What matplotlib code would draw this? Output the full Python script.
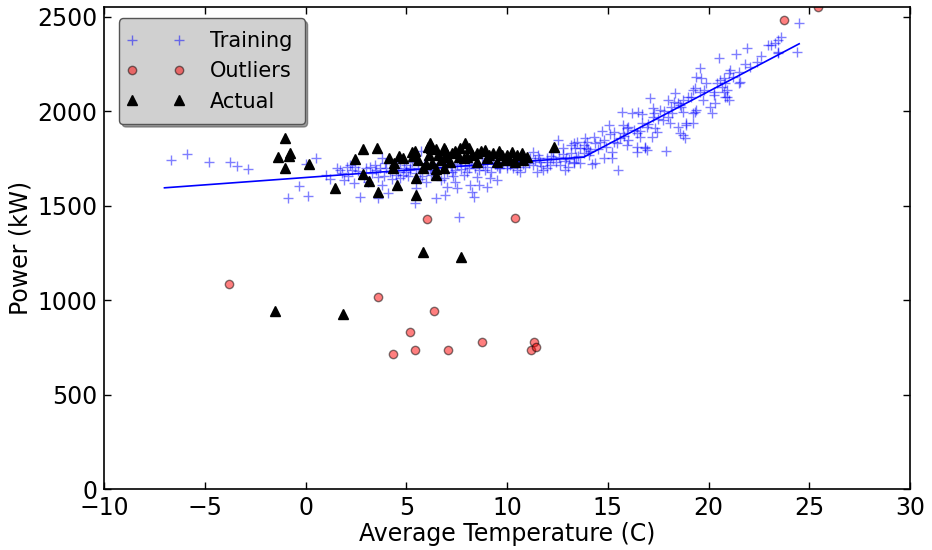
import matplotlib
matplotlib.use("Agg")
import matplotlib.pyplot as plt
from matplotlib.lines import Line2D
from matplotlib.legend_handler import HandlerLine2D

# training data (temperature C, power kW)
train_temp = [-6.7, -5.9, -4.8, -3.75, -3.4, -2.85, -0.3, -0.85, 0.1, 0.0, 0.5, 1.0, 1.55, 1.7, 1.9,
              2.05, 2.2, 2.4, 2.45, 2.7, 3.0, 3.3, 3.45, 3.6, 3.6, 3.8, 3.8, 3.95, 4.1, 4.2,
              4.5, 4.7, 4.7, 4.85, 5.0, 5.0, 5.2, 5.45, 5.5, 5.75, 6.0, 6.0, 6.25, 6.5, 6.7,
              6.85, 6.9, 7.0, 7.15, 7.25, 7.4, 7.5, 7.6, 7.65, 7.85, 8.15, 8.25, 8.35, 8.5, 8.6,
              8.75, 9.0, 9.15, 9.3, 9.5, 9.65, 10.0, 10.15, 10.5, 10.65, 10.8, 11.15, 11.3, 11.3, 11.5,
              11.55, 11.65, 11.8, 12.0, 12.0, 12.15, 12.3, 12.45, 12.55, 12.65, 12.8, 12.9, 12.95, 13.05, 13.2,
              13.2, 13.3, 13.3, 13.3, 13.35, 13.45, 13.6, 13.6, 13.8, 13.85, 13.9, 13.95, 14.05, 14.2, 14.3,
              14.35, 14.35, 14.7, 14.8, 14.8, 15.05, 15.2, 15.2, 15.3, 15.45, 15.5, 15.7, 15.75, 15.75, 15.95,
              15.95, 16.0, 16.2, 16.45, 16.45, 16.45, 16.5, 16.6, 16.7, 16.85, 16.85, 16.95, 16.95, 17.1, 17.2,
              17.25, 17.25, 17.35, 17.45, 17.6, 17.75, 17.9, 18.0, 18.1, 18.15, 18.35, 18.5, 18.5, 18.6, 18.6,
              18.65, 18.75, 18.75, 18.75, 18.85, 18.9, 18.9, 19.0, 19.15, 19.25, 19.25, 19.25, 19.35, 19.35, 19.4,
              19.4, 19.6, 19.6, 19.65, 19.75, 19.9, 20.05, 20.15, 20.25, 20.25, 20.3, 20.5, 20.55, 20.65, 20.75,
              20.75, 20.8, 20.8, 20.9, 20.9, 21.0, 21.0, 21.05, 21.35, 21.5, 21.5, 21.55, 21.9, 22.05, 22.4,
              22.95, 23.1, 23.3, 23.45, 23.45, 23.45, 23.6, 24.4, 24.5,
              1.2, 1.8, 2.1, 2.6, 2.9, 3.2, 3.5, 3.9, 4.0, 4.3, 4.4, 4.6, 4.9, 5.1, 5.3,
              5.5, 5.6, 5.8, 5.9, 6.1, 6.3, 6.4, 6.6, 6.8, 7.0, 7.2, 7.3, 7.5, 7.7, 7.9,
              8.0, 8.2, 8.4, 8.6, 8.8, 9.0, 9.2, 9.4, 9.6, 9.8, 10.0, 10.3, 10.6, 10.9, 11.1,
              11.4, 11.7, 12.0, 12.3, 12.6, 12.9, 13.1, 13.5, 13.8, 14.1, 14.5, 14.9, 15.3, 15.6, 16.0,
              16.3, 16.7, 17.0, 17.5, 17.8, 18.2, 18.3, 19.8, 20.4, 21.2, 21.8, 22.6,
              2.3, 3.1, 3.7, 4.5, 5.2, 5.7, 6.2, 6.9, 7.4, 8.1, 8.9, 9.5, 10.2, 10.8, 11.6,
              12.2, 12.8, 13.4, 14.0, 14.6, 15.1, 15.8, 16.6, 17.3, 18.0]
train_power = [1742, 1772, 1730, 1730, 1712, 1695, 1605, 1543, 1550, 1720, 1751, 1663, 1698, 1689, 1636,
               1707, 1716, 1619, 1707, 1548, 1698, 1672, 1716, 1654, 1540, 1751, 1610, 1725, 1566, 1681,
               1698, 1645, 1733, 1663, 1681, 1716, 1698, 1513, 1593, 1790, 1627, 1698, 1663, 1540, 1636,
               1645, 1557, 1601, 1725, 1680, 1627, 1593, 1442, 1733, 1663, 1610, 1575, 1548, 1654, 1610,
               1751, 1601, 1645, 1733, 1636, 1698, 1698, 1716, 1689, 1680, 1769, 1751, 1716, 1786, 1680,
               1769, 1733, 1689, 1698, 1751, 1716, 1786, 1733, 1848, 1716, 1804, 1689, 1751, 1707, 1822,
               1778, 1733, 1831, 1725, 1804, 1839, 1804, 1725, 1822, 1857, 1804, 1839, 1769, 1721, 1866,
               1831, 1725, 1897, 1848, 1751, 1927, 1786, 1751, 1892, 1831, 1689, 1998, 1927, 1883, 1822,
               1910, 1918, 1993, 1813, 1786, 1883, 1998, 1866, 1986, 1813, 1804, 1795, 1918, 2069, 1866,
               2016, 1971, 1910, 1892, 2007, 1954, 1792, 1971, 1936, 2024, 2095, 2042, 1918, 2033, 1883,
               2020, 1998, 2060, 1874, 1857, 1936, 1927, 2077, 2077, 1989, 1936, 2113, 2122, 1998, 2183,
               2007, 2104, 2228, 2175, 2060, 2148, 2024, 1989, 2104, 2086, 2042, 2284, 2166, 2130, 2104,
               2175, 2148, 2077, 2113, 2077, 2201, 2060, 2219, 2304, 2210, 2148, 2157, 2334, 2236, 2263,
               2351, 2351, 2363, 2377, 2316, 2307, 2395, 2316, 2466,
               1640, 1672, 1660, 1685, 1650, 1705, 1690, 1660, 1700, 1640, 1715, 1680, 1700, 1655, 1730,
               1675, 1700, 1660, 1720, 1690, 1710, 1675, 1725, 1700, 1680, 1710, 1660, 1720, 1695, 1710,
               1680, 1725, 1700, 1690, 1720, 1705, 1680, 1720, 1700, 1730, 1715, 1700, 1730, 1705, 1725,
               1740, 1710, 1730, 1745, 1760, 1735, 1750, 1765, 1780, 1790, 1800, 1810, 1840, 1860, 1850,
               1900, 1940, 1935, 1960, 2000, 1990, 2050, 2110, 2150, 2180, 2250, 2290,
               1690, 1625, 1700, 1665, 1690, 1640, 1700, 1720, 1690, 1700, 1690, 1710, 1740, 1720, 1755,
               1765, 1775, 1760, 1800, 1835, 1880, 1870, 1895, 1990, 2060]

# outliers
out_temp = [-3.8, 6.05, 10.4, 3.6, 6.4, 5.2, 4.35, 5.45, 7.05, 8.75, 11.35, 11.2, 11.45, 23.75, 25.45]
out_power = [1086, 1432, 1437, 1019, 941, 830, 717, 735, 735, 777, 780, 735, 754, 2484, 2550]

# actual measurements
act_temp = [-1.0, -1.35, -0.75, -0.8, -1.0, 0.15, 1.45, 2.85, 3.55, 2.45, 2.85, 3.15, 3.6, 4.15, 4.4,
            4.55, 4.65, 4.85, 5.5, 5.5, 5.3, 5.45, 5.6, 6.0, 6.2, 6.3, 6.5, 6.15, 6.3, 6.5,
            6.7, 6.85, 6.9, 7.25, 7.15, 7.65, 7.9, 8.1, 7.85, 8.25, 8.5, 8.5, 8.9, 9.0, 9.3,
            9.5, 9.75, 9.9, 10.25, 10.5, 10.75, 10.4, 10.8, 12.35, 6.1, 6.25, 6.6, 6.85, 6.9, 6.5,
            5.85, 5.35, 4.35, 7.4, 8.0, 8.7, 9.1, 9.6, 10.0, 10.1, 11.0, 7.6,
            -1.5, 1.85, 5.85, 7.7]
act_power = [1857, 1756, 1777, 1765, 1698, 1722, 1592, 1800, 1806, 1746, 1666, 1631, 1574, 1755, 1724,
             1608, 1762, 1751, 1645, 1555, 1783, 1790, 1742, 1719, 1830, 1807, 1800, 1768, 1728, 1692,
             1742, 1807, 1760, 1778, 1733, 1804, 1831, 1804, 1751, 1769, 1778, 1733, 1795, 1751, 1778,
             1733, 1769, 1743, 1787, 1769, 1778, 1733, 1743, 1810, 1813, 1804, 1769, 1698, 1795, 1663,
             1698, 1765, 1698, 1790, 1760, 1790, 1770, 1790, 1770, 1750, 1760, 1760,
             945, 930, 1255, 1228]

# fitted model line
fit_temp = [-7.0, 13.8, 24.5]
fit_power = [1595, 1757, 2357]

fig = plt.figure(figsize=(9.32, 5.5), dpi=100)
ax = fig.add_axes([0.1116, 0.1104, 0.8648, 0.8763])

ax.plot(train_temp, train_power, '+', color='blue', alpha=0.5, markersize=7, label='Training')
ax.plot(fit_temp, fit_power, '-', color='blue', linewidth=1.2)
ax.plot(out_temp, out_power, 'o', color='red', alpha=0.5, markeredgecolor='k',
        markersize=6, label='Outliers')
ax.plot(act_temp, act_power, '^', color='black', markersize=6.5, label='Actual')

ax.set_xlim(-10, 30)
ax.set_ylim(0, 2550)
ax.set_xticks(range(-10, 31, 5))
ax.set_xticklabels(['\u221210', '\u22125', '0', '5', '10', '15', '20', '25', '30'])
ax.set_yticks(range(0, 2501, 500))
ax.tick_params(direction='in', length=5, width=1, top=True, right=True, labelsize=17, pad=5)
for s in ax.spines.values():
    s.set_linewidth(1.2)

ax.set_xlabel('Average Temperature (C)', fontsize=17, labelpad=1)
ax.set_ylabel('Power (kW)', fontsize=17, labelpad=3)

leg = ax.legend(loc='upper left', bbox_to_anchor=(0.019, 0.977), numpoints=2,
                fancybox=True, shadow=True, fontsize=15,
                facecolor='#d0d0d0', edgecolor='#555555', framealpha=1.0,
                handlelength=2.25, handletextpad=1.5, labelspacing=0.5,
                borderpad=0.6, borderaxespad=0,
                handler_map={Line2D: HandlerLine2D(marker_pad=0)})

fig.savefig('out.png', dpi=100)
